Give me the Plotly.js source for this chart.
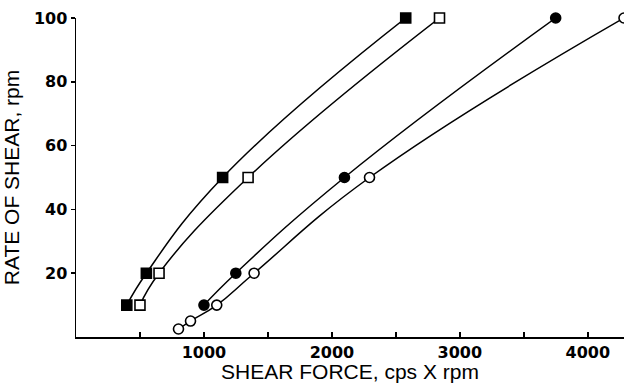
<!DOCTYPE html>
<html>
<head>
<meta charset="utf-8">
<script src="https://cdn.plot.ly/plotly-3.0.1.min.js"></script>
<style>html,body{margin:0;padding:0;background:#fff}#chart{width:624px;height:383px}</style>
</head>
<body>
<div id="chart"></div>
<script>
// Series data (shear force, cps x rpm  vs  rate of shear, rpm)
var filledSquareX = [397, 550, 1146, 2577];
var filledSquareY = [10, 20, 50, 100];
var openSquareX = [500, 649, 1345, 2841];
var openSquareY = [10, 20, 50, 100];
var filledCircleX = [1000, 1249, 2098, 3749];
var filledCircleY = [10, 20, 50, 100];
var openCircleX = [801, 895, 1100, 1392, 2294, 4283];
var openCircleY = [2.5, 5, 10, 20, 50, 100];
var yTickVals = [20, 40, 60, 80, 100];
var xTickVals = [1000, 2000, 3000, 4000];

function series(x, y, symbol, fill) {
  return {
    x: x, y: y, type: 'scatter', mode: 'lines+markers',
    line: {color: '#000', width: 1.5, shape: 'spline', smoothing: 1.3},
    marker: {symbol: symbol, size: 10, color: fill, line: {color: '#000', width: 1.6}},
    cliponaxis: false, showlegend: false, hoverinfo: 'skip'
  };
}

var data = [
  series(filledSquareX, filledSquareY, 'square', '#000'),
  series(openSquareX, openSquareY, 'square', '#fff'),
  series(filledCircleX, filledCircleY, 'circle', '#000'),
  series(openCircleX, openCircleY, 'circle', '#fff')
];

var layout = {
  width: 624, height: 383,
  margin: {l: 76, r: 0, t: 18, b: 46, pad: 0},
  paper_bgcolor: '#fff', plot_bgcolor: '#fff',
  font: {family: 'Liberation Sans, Arial, sans-serif', color: '#000'},
  xaxis: {
    range: [0, 4283], showgrid: false, zeroline: false,
    showline: true, linecolor: '#000', linewidth: 1.5,
    tickmode: 'array', tickvals: xTickVals,
    ticks: 'inside', ticklen: 5, tickwidth: 1.5, tickcolor: '#000',
    minor: {dtick: 500, tick0: 0, ticks: 'inside', ticklen: 5, tickwidth: 1.5, tickcolor: '#000', showgrid: false},
    tickfont: {family: 'DejaVu Sans, sans-serif', size: 16, weight: 'bold', color: '#000'},
    title: {text: 'SHEAR FORCE, cps X rpm', font: {size: 21, color: '#000'}, standoff: 3}
  },
  yaxis: {
    range: [0, 100], showgrid: false, zeroline: false,
    showline: true, linecolor: '#000', linewidth: 1.5,
    tickmode: 'array', tickvals: yTickVals,
    ticks: 'outside', ticklen: 4, tickwidth: 1.5, tickcolor: '#000',
    tickfont: {family: 'DejaVu Sans, sans-serif', size: 16, weight: 'bold', color: '#000'},
    title: {text: 'RATE OF SHEAR, rpm', font: {size: 21, color: '#000'}, standoff: 8}
  }
};

Plotly.newPlot('chart', data, layout, {staticPlot: true, displayModeBar: false});
</script>
</body>
</html>
